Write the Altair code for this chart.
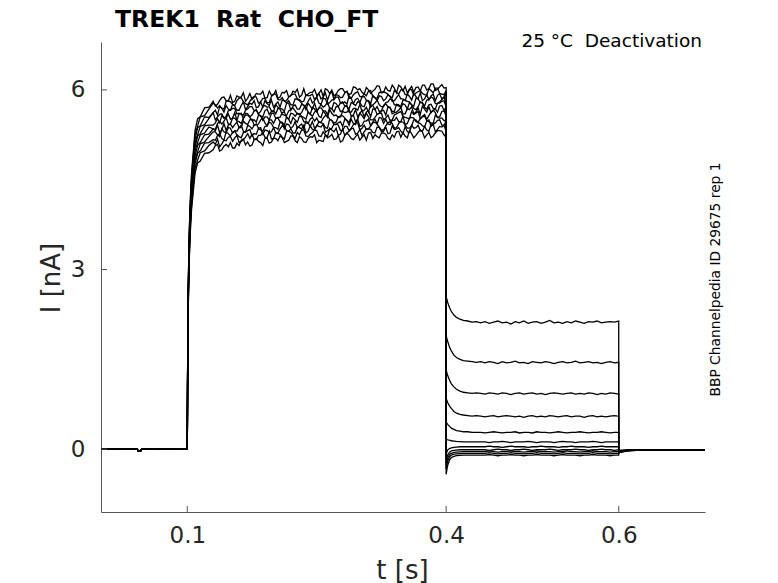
import altair as alt
import pandas as pd

# ---------------- texts / ticks ----------------
title_text = "TREK1\u00a0 Rat\u00a0 CHO_FT"
cond_text = "25 °C\u00a0 Deactivation"
id_text = "BBP Channelpedia ID 29675 rep 1"
x_title = "t [s]"
y_title = "I [nA]"
x_ticks = [0.1, 0.4, 0.6]
y_ticks = [0, 3, 6]
x_domain = [0, 0.7]
y_domain = [-1.05, 6.8]

# ---------------- sample times ----------------
t_base = [0.0, 0.01, 0.02, 0.03, 0.04, 0.042, 0.043, 0.046, 0.047, 0.05, 0.06, 0.07, 0.08, 0.09, 0.1]
v_base = [0.0, 0.005, -0.005, 0.0, 0.005, 0.0, -0.03, -0.03, 0.0, 0.005, -0.005, 0.0, 0.005, -0.005, 0.0]

t_rise = [0.1005, 0.101, 0.102, 0.103, 0.104, 0.105, 0.107, 0.109, 0.112, 0.115, 0.120, 0.125]

t_plat = [0.130, 0.135, 0.140, 0.145, 0.150, 0.155, 0.160, 0.165, 0.170, 0.175,
          0.180, 0.185, 0.190, 0.195, 0.200, 0.205, 0.210, 0.215, 0.220, 0.225,
          0.230, 0.235, 0.240, 0.245, 0.250, 0.255, 0.260, 0.265, 0.270, 0.275,
          0.280, 0.285, 0.290, 0.295, 0.300, 0.305, 0.310, 0.315, 0.320, 0.325,
          0.330, 0.335, 0.340, 0.345, 0.350, 0.355, 0.360, 0.365, 0.370, 0.375,
          0.380, 0.385, 0.390, 0.395, 0.400]
t_mid = [0.1325, 0.1375, 0.1425, 0.1475, 0.1525, 0.1575, 0.1625, 0.1675, 0.1725, 0.1775,
         0.1825, 0.1875, 0.1925, 0.1975, 0.2025, 0.2075, 0.2125, 0.2175, 0.2225, 0.2275,
         0.2325, 0.2375, 0.2425, 0.2475, 0.2525, 0.2575, 0.2625, 0.2675, 0.2725, 0.2775,
         0.2825, 0.2875, 0.2925, 0.2975, 0.3025, 0.3075, 0.3125, 0.3175, 0.3225, 0.3275,
         0.3325, 0.3375, 0.3425, 0.3475, 0.3525, 0.3575, 0.3625, 0.3675, 0.3725, 0.3775,
         0.3825, 0.3875, 0.3925, 0.3975]

t_tail = [0.400, 0.401, 0.402, 0.404, 0.406, 0.409, 0.412, 0.416, 0.420, 0.425, 0.430, 0.435, 0.440,
          0.445, 0.450, 0.455, 0.460, 0.465, 0.470, 0.475, 0.480, 0.485, 0.490,
          0.495, 0.500, 0.505, 0.510, 0.515, 0.520, 0.525, 0.530, 0.535, 0.540,
          0.545, 0.550, 0.555, 0.560, 0.565, 0.570, 0.575, 0.580, 0.585, 0.590,
          0.595, 0.600]

t_post = [0.600, 0.601, 0.603, 0.606, 0.610, 0.615, 0.620, 0.630, 0.640, 0.650, 0.660, 0.670, 0.680, 0.690, 0.700]

# ---------------- activation rise (per sweep) ----------------
rise_1 = [1.73, 2.60, 3.47, 3.99, 4.34, 4.62, 4.97, 5.32, 5.52, 5.55, 5.70, 5.71]
rise_2 = [1.71, 2.57, 3.43, 3.94, 4.28, 4.57, 4.91, 5.25, 5.40, 5.55, 5.57, 5.68]
rise_3 = [1.69, 2.53, 3.38, 3.88, 4.22, 4.50, 4.84, 5.18, 5.37, 5.40, 5.55, 5.54]
rise_4 = [1.67, 2.50, 3.33, 3.83, 4.16, 4.44, 4.77, 5.11, 5.25, 5.39, 5.42, 5.52]
rise_5 = [1.64, 2.47, 3.29, 3.78, 4.11, 4.38, 4.71, 5.04, 5.23, 5.27, 5.40, 5.41]
rise_6 = [1.62, 2.43, 3.25, 3.73, 4.06, 4.33, 4.65, 4.98, 5.12, 5.25, 5.28, 5.38]
rise_7 = [1.60, 2.40, 3.20, 3.68, 4.00, 4.26, 4.58, 4.90, 5.08, 5.12, 5.25, 5.26]
rise_8 = [1.58, 2.36, 3.15, 3.62, 3.94, 4.20, 4.52, 4.83, 4.97, 5.10, 5.13, 5.22]
rise_9 = [1.55, 2.33, 3.11, 3.57, 3.89, 4.14, 4.45, 4.77, 4.94, 4.98, 5.11, 5.12]
rise_10 = [1.53, 2.30, 3.06, 3.52, 3.83, 4.08, 4.39, 4.69, 4.83, 4.95, 4.98, 5.07]
rise_11 = [1.50, 2.25, 3.01, 3.46, 3.76, 4.01, 4.31, 4.61, 4.78, 4.81, 4.94, 4.95]

# ---------------- activation plateau, samples on t_plat (per sweep) ----------------
plat_1 = [5.81, 5.76, 5.87, 5.82, 5.91, 5.81, 5.88, 5.95, 5.86, 5.84, 5.94, 5.93, 5.86, 5.98, 5.92, 5.86, 5.96, 5.99, 5.90, 5.96,
          5.88, 6.02, 5.93, 5.96, 5.91, 6.00, 6.02, 5.94, 5.90, 5.99, 6.02, 5.97, 5.94, 6.04, 6.02, 5.93, 6.00, 5.98, 6.07, 5.95,
          6.05, 5.98, 6.03, 6.08, 5.98, 5.95, 6.06, 6.04, 5.98, 6.08, 6.02, 6.10, 6.01, 6.09, 6.04]
plat_2 = [5.78, 5.70, 5.69, 5.81, 5.80, 5.74, 5.86, 5.80, 5.75, 5.86, 5.88, 5.80, 5.86, 5.79, 5.93, 5.84, 5.87, 5.82, 5.91, 5.93,
          5.84, 5.81, 5.90, 5.93, 5.88, 5.85, 5.95, 5.93, 5.84, 5.91, 5.88, 5.98, 5.86, 5.95, 5.89, 5.94, 5.98, 5.89, 5.86, 5.96,
          5.95, 5.89, 5.99, 5.93, 6.01, 5.92, 6.00, 5.95, 5.99, 5.92, 6.02, 5.95, 6.03, 5.93, 5.99]
plat_3 = [5.62, 5.58, 5.70, 5.74, 5.66, 5.73, 5.66, 5.80, 5.72, 5.76, 5.70, 5.80, 5.82, 5.74, 5.71, 5.80, 5.83, 5.78, 5.75, 5.85,
          5.82, 5.74, 5.81, 5.78, 5.88, 5.76, 5.85, 5.79, 5.84, 5.88, 5.78, 5.76, 5.86, 5.84, 5.79, 5.89, 5.82, 5.91, 5.82, 5.89,
          5.85, 5.89, 5.82, 5.92, 5.85, 5.93, 5.83, 5.89, 5.95, 5.85, 5.83, 5.93, 5.91, 5.85, 5.96]
plat_4 = [5.62, 5.55, 5.60, 5.56, 5.66, 5.69, 5.61, 5.58, 5.68, 5.72, 5.66, 5.64, 5.74, 5.72, 5.64, 5.71, 5.68, 5.78, 5.66, 5.75,
          5.68, 5.74, 5.78, 5.68, 5.66, 5.76, 5.74, 5.69, 5.79, 5.72, 5.80, 5.72, 5.79, 5.74, 5.79, 5.72, 5.81, 5.75, 5.83, 5.72,
          5.79, 5.85, 5.75, 5.73, 5.83, 5.81, 5.75, 5.86, 5.79, 5.73, 5.84, 5.86, 5.77, 5.84, 5.76]
plat_5 = [5.41, 5.52, 5.57, 5.53, 5.51, 5.62, 5.60, 5.52, 5.60, 5.58, 5.67, 5.56, 5.65, 5.59, 5.65, 5.69, 5.59, 5.57, 5.67, 5.65,
          5.59, 5.70, 5.63, 5.71, 5.63, 5.70, 5.65, 5.70, 5.63, 5.72, 5.65, 5.74, 5.63, 5.69, 5.76, 5.66, 5.63, 5.74, 5.72, 5.65,
          5.77, 5.70, 5.64, 5.75, 5.77, 5.68, 5.75, 5.67, 5.80, 5.71, 5.75, 5.69, 5.78, 5.81, 5.72]
plat_6 = [5.35, 5.44, 5.43, 5.54, 5.43, 5.53, 5.47, 5.53, 5.58, 5.49, 5.46, 5.57, 5.55, 5.50, 5.61, 5.54, 5.62, 5.54, 5.61, 5.56,
          5.60, 5.54, 5.63, 5.56, 5.65, 5.54, 5.60, 5.67, 5.57, 5.54, 5.64, 5.63, 5.56, 5.67, 5.61, 5.55, 5.65, 5.68, 5.59, 5.65,
          5.58, 5.71, 5.62, 5.66, 5.60, 5.69, 5.72, 5.63, 5.59, 5.68, 5.72, 5.66, 5.63, 5.74, 5.71]
plat_7 = [5.35, 5.41, 5.33, 5.32, 5.43, 5.42, 5.37, 5.48, 5.42, 5.51, 5.42, 5.50, 5.45, 5.50, 5.44, 5.53, 5.46, 5.55, 5.44, 5.50,
          5.56, 5.47, 5.44, 5.54, 5.53, 5.46, 5.57, 5.51, 5.45, 5.55, 5.57, 5.49, 5.55, 5.47, 5.61, 5.52, 5.55, 5.50, 5.59, 5.61,
          5.53, 5.49, 5.58, 5.62, 5.56, 5.53, 5.64, 5.61, 5.52, 5.59, 5.57, 5.66, 5.54, 5.64, 5.57]
plat_8 = [5.30, 5.25, 5.35, 5.28, 5.36, 5.32, 5.37, 5.31, 5.41, 5.35, 5.43, 5.33, 5.39, 5.46, 5.37, 5.34, 5.44, 5.43, 5.36, 5.47,
          5.40, 5.35, 5.45, 5.47, 5.39, 5.45, 5.37, 5.51, 5.42, 5.45, 5.39, 5.49, 5.51, 5.42, 5.39, 5.48, 5.51, 5.46, 5.43, 5.53,
          5.51, 5.42, 5.49, 5.47, 5.56, 5.44, 5.54, 5.47, 5.52, 5.56, 5.47, 5.44, 5.54, 5.53, 5.47]
plat_9 = [5.17, 5.24, 5.19, 5.30, 5.23, 5.31, 5.22, 5.29, 5.32, 5.23, 5.26, 5.37, 5.33, 5.29, 5.37, 5.28, 5.40, 5.32, 5.35, 5.28,
          5.37, 5.41, 5.31, 5.34, 5.41, 5.38, 5.29, 5.34, 5.43, 5.41, 5.32, 5.39, 5.36, 5.45, 5.33, 5.41, 5.35, 5.45, 5.43, 5.33,
          5.40, 5.47, 5.36, 5.44, 5.46, 5.36, 5.40, 5.50, 5.44, 5.38, 5.50, 5.42, 5.49, 5.41, 5.48]
plat_10 = [5.13, 5.18, 5.10, 5.15, 5.22, 5.20, 5.12, 5.17, 5.27, 5.26, 5.17, 5.24, 5.21, 5.31, 5.19, 5.27, 5.21, 5.31, 5.29, 5.19,
           5.25, 5.33, 5.22, 5.29, 5.32, 5.22, 5.25, 5.36, 5.30, 5.24, 5.35, 5.28, 5.35, 5.26, 5.34, 5.30, 5.35, 5.29, 5.38, 5.30,
           5.38, 5.28, 5.34, 5.37, 5.27, 5.30, 5.41, 5.37, 5.32, 5.39, 5.31, 5.43, 5.34, 5.38, 5.31]
plat_11 = [5.00, 5.09, 5.00, 5.09, 5.12, 5.03, 5.07, 5.18, 5.13, 5.08, 5.19, 5.12, 5.19, 5.11, 5.19, 5.15, 5.20, 5.14, 5.23, 5.15,
           5.22, 5.13, 5.19, 5.21, 5.12, 5.15, 5.25, 5.22, 5.17, 5.24, 5.15, 5.28, 5.19, 5.22, 5.16, 5.25, 5.28, 5.19, 5.22, 5.28,
           5.26, 5.17, 5.21, 5.31, 5.29, 5.20, 5.27, 5.24, 5.33, 5.20, 5.29, 5.23, 5.32, 5.31, 5.21]

# ---------------- activation plateau, samples on t_mid (per sweep) ----------------
mid_1 = [5.73, 5.82, 5.88, 5.81, 5.79, 5.90, 5.88, 5.81, 5.94, 5.88, 5.93, 5.98, 5.87, 5.91, 5.99, 5.88, 5.95, 5.88, 5.98, 6.01,
         5.91, 5.90, 5.96, 6.01, 5.94, 5.89, 6.00, 6.00, 5.93, 6.02, 5.96, 5.92, 6.05, 6.00, 5.96, 6.04, 5.94, 6.01, 6.06, 5.96,
         5.99, 6.08, 5.95, 6.05, 6.06, 6.01, 5.96, 6.05, 6.08, 6.00, 6.10, 5.99, 6.05, 6.03]
mid_2 = [5.75, 5.74, 5.68, 5.82, 5.76, 5.82, 5.87, 5.77, 5.81, 5.89, 5.78, 5.86, 5.78, 5.89, 5.93, 5.83, 5.81, 5.88, 5.93, 5.85,
         5.80, 5.92, 5.91, 5.84, 5.94, 5.88, 5.83, 5.97, 5.92, 5.87, 5.95, 5.86, 5.92, 5.97, 5.88, 5.90, 5.99, 5.87, 5.96, 5.97,
         5.93, 5.87, 5.96, 6.00, 5.92, 6.01, 5.91, 5.97, 5.94, 5.91, 5.99, 6.03, 5.94, 5.92]
mid_3 = [5.66, 5.72, 5.63, 5.68, 5.76, 5.66, 5.74, 5.67, 5.78, 5.82, 5.72, 5.71, 5.77, 5.83, 5.76, 5.71, 5.82, 5.82, 5.75, 5.84,
         5.78, 5.74, 5.87, 5.82, 5.78, 5.86, 5.76, 5.83, 5.88, 5.78, 5.80, 5.90, 5.77, 5.86, 5.88, 5.83, 5.77, 5.87, 5.90, 5.82,
         5.92, 5.81, 5.87, 5.85, 5.82, 5.89, 5.94, 5.85, 5.82, 5.92, 5.90, 5.82, 5.94, 5.88]
mid_4 = [5.50, 5.59, 5.53, 5.65, 5.69, 5.60, 5.59, 5.66, 5.72, 5.65, 5.60, 5.72, 5.71, 5.65, 5.75, 5.69, 5.64, 5.78, 5.73, 5.68,
         5.76, 5.67, 5.73, 5.78, 5.69, 5.71, 5.80, 5.68, 5.77, 5.78, 5.73, 5.68, 5.77, 5.80, 5.73, 5.82, 5.71, 5.78, 5.75, 5.72,
         5.80, 5.84, 5.75, 5.73, 5.83, 5.80, 5.73, 5.85, 5.78, 5.83, 5.88, 5.77, 5.80, 5.88]
mid_5 = [5.45, 5.45, 5.53, 5.60, 5.53, 5.49, 5.61, 5.61, 5.55, 5.65, 5.59, 5.55, 5.68, 5.64, 5.60, 5.68, 5.58, 5.65, 5.70, 5.60,
         5.62, 5.72, 5.59, 5.68, 5.70, 5.65, 5.59, 5.69, 5.72, 5.64, 5.73, 5.63, 5.69, 5.66, 5.64, 5.71, 5.75, 5.67, 5.64, 5.74,
         5.72, 5.64, 5.76, 5.70, 5.75, 5.79, 5.69, 5.72, 5.79, 5.68, 5.76, 5.68, 5.78, 5.82]
mid_6 = [5.34, 5.47, 5.48, 5.43, 5.53, 5.48, 5.44, 5.58, 5.54, 5.50, 5.58, 5.49, 5.55, 5.61, 5.52, 5.54, 5.63, 5.51, 5.60, 5.61,
         5.56, 5.51, 5.60, 5.63, 5.56, 5.65, 5.54, 5.61, 5.58, 5.55, 5.62, 5.67, 5.58, 5.55, 5.66, 5.63, 5.55, 5.68, 5.61, 5.66,
         5.71, 5.60, 5.63, 5.71, 5.60, 5.67, 5.60, 5.70, 5.73, 5.63, 5.62, 5.68, 5.73, 5.66]
mid_7 = [5.32, 5.29, 5.44, 5.41, 5.37, 5.46, 5.37, 5.44, 5.50, 5.41, 5.43, 5.53, 5.40, 5.50, 5.52, 5.47, 5.41, 5.51, 5.54, 5.46,
         5.55, 5.45, 5.51, 5.48, 5.46, 5.53, 5.57, 5.49, 5.46, 5.56, 5.53, 5.46, 5.58, 5.51, 5.57, 5.61, 5.50, 5.54, 5.61, 5.50,
         5.58, 5.50, 5.60, 5.64, 5.54, 5.52, 5.59, 5.64, 5.56, 5.51, 5.63, 5.62, 5.55, 5.65]
mid_8 = [5.30, 5.22, 5.30, 5.37, 5.28, 5.31, 5.41, 5.29, 5.39, 5.41, 5.36, 5.31, 5.40, 5.44, 5.37, 5.46, 5.35, 5.42, 5.39, 5.36,
         5.43, 5.48, 5.39, 5.36, 5.47, 5.44, 5.36, 5.49, 5.42, 5.47, 5.51, 5.41, 5.44, 5.51, 5.41, 5.48, 5.40, 5.51, 5.54, 5.44,
         5.43, 5.49, 5.54, 5.47, 5.42, 5.53, 5.53, 5.46, 5.55, 5.49, 5.45, 5.58, 5.53, 5.49]
mid_9 = [5.16, 5.27, 5.16, 5.27, 5.29, 5.25, 5.20, 5.30, 5.34, 5.27, 5.36, 5.26, 5.32, 5.30, 5.28, 5.35, 5.39, 5.31, 5.28, 5.38,
         5.35, 5.28, 5.40, 5.33, 5.39, 5.43, 5.32, 5.36, 5.43, 5.32, 5.39, 5.32, 5.42, 5.45, 5.36, 5.34, 5.40, 5.46, 5.38, 5.33,
         5.45, 5.44, 5.37, 5.47, 5.41, 5.36, 5.50, 5.45, 5.40, 5.48, 5.39, 5.45, 5.50, 5.41]
mid_10 = [5.09, 5.05, 5.16, 5.21, 5.14, 5.24, 5.14, 5.21, 5.19, 5.17, 5.24, 5.29, 5.20, 5.18, 5.29, 5.26, 5.18, 5.31, 5.24, 5.29,
          5.33, 5.23, 5.26, 5.33, 5.23, 5.30, 5.22, 5.33, 5.36, 5.26, 5.24, 5.31, 5.36, 5.28, 5.24, 5.35, 5.34, 5.28, 5.37, 5.31,
          5.27, 5.40, 5.35, 5.31, 5.39, 5.29, 5.36, 5.41, 5.31, 5.33, 5.43, 5.30, 5.39, 5.41]
mid_11 = [5.07, 4.98, 5.06, 5.05, 5.03, 5.11, 5.16, 5.08, 5.06, 5.17, 5.14, 5.07, 5.19, 5.13, 5.19, 5.23, 5.12, 5.16, 5.23, 5.12,
          5.19, 5.12, 5.22, 5.25, 5.16, 5.14, 5.20, 5.26, 5.18, 5.13, 5.24, 5.24, 5.17, 5.26, 5.21, 5.16, 5.29, 5.25, 5.20, 5.28,
          5.19, 5.25, 5.30, 5.21, 5.23, 5.32, 5.20, 5.29, 5.30, 5.25, 5.20, 5.28, 5.32, 5.25]

# ---------------- deactivation tails (per sweep) ----------------
tail_1 = [2.55, 2.49, 2.44, 2.36, 2.30, 2.24, 2.20, 2.17, 2.15, 2.14, 2.12, 2.13, 2.11,
          2.13, 2.10, 2.12, 2.14, 2.11, 2.12, 2.09, 2.13, 2.11, 2.14, 2.10, 2.12, 2.13, 2.10, 2.12, 2.15,
          2.11, 2.12, 2.10, 2.13, 2.11, 2.14, 2.12, 2.10, 2.13, 2.12, 2.14, 2.11, 2.12, 2.13, 2.12, 2.14]
tail_2 = [1.90, 1.84, 1.79, 1.70, 1.64, 1.57, 1.53, 1.50, 1.48, 1.47, 1.46, 1.45, 1.46,
          1.44, 1.46, 1.45, 1.43, 1.46, 1.44, 1.45, 1.47, 1.44, 1.45, 1.43, 1.46, 1.45, 1.44, 1.46, 1.45,
          1.43, 1.45, 1.46, 1.44, 1.45, 1.47, 1.44, 1.45, 1.46, 1.44, 1.45, 1.43, 1.45, 1.46, 1.44, 1.45]
tail_3 = [1.32, 1.27, 1.22, 1.15, 1.09, 1.04, 1.00, 0.97, 0.95, 0.94, 0.93, 0.94, 0.93,
          0.92, 0.94, 0.93, 0.92, 0.94, 0.93, 0.91, 0.93, 0.94, 0.92, 0.93, 0.94, 0.92, 0.93, 0.91, 0.93,
          0.94, 0.93, 0.92, 0.93, 0.94, 0.92, 0.93, 0.92, 0.94, 0.93, 0.91, 0.93, 0.92, 0.94, 0.93, 0.92]
tail_4 = [0.85, 0.81, 0.77, 0.72, 0.68, 0.63, 0.60, 0.58, 0.57, 0.56, 0.55, 0.56, 0.55,
          0.54, 0.55, 0.56, 0.54, 0.55, 0.56, 0.55, 0.54, 0.55, 0.53, 0.55, 0.56, 0.54, 0.55, 0.54, 0.56,
          0.55, 0.54, 0.55, 0.56, 0.54, 0.55, 0.55, 0.53, 0.55, 0.56, 0.54, 0.55, 0.54, 0.55, 0.56, 0.55]
tail_5 = [0.45, 0.43, 0.41, 0.38, 0.35, 0.33, 0.31, 0.30, 0.29, 0.29, 0.28, 0.28, 0.28,
          0.27, 0.28, 0.29, 0.28, 0.27, 0.28, 0.28, 0.29, 0.27, 0.28, 0.28, 0.27, 0.29, 0.28, 0.28, 0.27,
          0.28, 0.29, 0.28, 0.27, 0.28, 0.28, 0.29, 0.28, 0.27, 0.28, 0.28, 0.29, 0.28, 0.27, 0.28, 0.28]
tail_6 = [0.17, 0.16, 0.155, 0.15, 0.14, 0.135, 0.13, 0.125, 0.12, 0.12, 0.12, 0.12, 0.12,
          0.12, 0.11, 0.12, 0.12, 0.13, 0.12, 0.11, 0.12, 0.12, 0.12, 0.13, 0.12, 0.11, 0.12, 0.12, 0.12,
          0.11, 0.12, 0.13, 0.12, 0.12, 0.11, 0.12, 0.12, 0.12, 0.13, 0.12, 0.11, 0.12, 0.12, 0.12, 0.12]
tail_7 = [-0.08, -0.04, -0.01, 0.01, 0.02, 0.03, 0.035, 0.04, 0.04, 0.04, 0.04, 0.04, 0.04,
          0.04, 0.05, 0.04, 0.04, 0.03, 0.04, 0.05, 0.04, 0.04, 0.04, 0.03, 0.04, 0.04, 0.05, 0.04, 0.04,
          0.04, 0.03, 0.04, 0.04, 0.05, 0.04, 0.04, 0.04, 0.03, 0.04, 0.04, 0.05, 0.04, 0.04, 0.04, 0.04]
tail_8 = [-0.18, -0.13, -0.09, -0.05, -0.03, -0.02, -0.015, -0.01, -0.01, -0.01, -0.01, -0.01, -0.01,
          -0.01, -0.02, -0.01, 0.00, -0.01, -0.01, -0.02, -0.01, -0.01, 0.00, -0.01, -0.02, -0.01, -0.01, -0.01, 0.00,
          -0.01, -0.02, -0.01, -0.01, -0.01, 0.00, -0.01, -0.01, -0.02, -0.01, -0.01, 0.00, -0.01, -0.01, -0.02, -0.01]
tail_9 = [-0.26, -0.19, -0.14, -0.09, -0.07, -0.055, -0.05, -0.045, -0.04, -0.04, -0.04, -0.04, -0.04,
          -0.04, -0.03, -0.04, -0.05, -0.04, -0.04, -0.03, -0.04, -0.04, -0.05, -0.04, -0.04, -0.03, -0.04, -0.04, -0.04,
          -0.05, -0.04, -0.04, -0.03, -0.04, -0.04, -0.05, -0.04, -0.04, -0.03, -0.04, -0.04, -0.04, -0.05, -0.04, -0.04]
tail_10 = [-0.33, -0.25, -0.19, -0.13, -0.10, -0.085, -0.08, -0.075, -0.07, -0.07, -0.07, -0.07, -0.07,
           -0.07, -0.06, -0.07, -0.08, -0.07, -0.07, -0.06, -0.07, -0.07, -0.08, -0.07, -0.07, -0.06, -0.07, -0.07, -0.07,
           -0.08, -0.07, -0.06, -0.07, -0.07, -0.07, -0.08, -0.07, -0.07, -0.06, -0.07, -0.07, -0.07, -0.08, -0.07, -0.07]
tail_11 = [-0.42, -0.33, -0.26, -0.18, -0.14, -0.12, -0.11, -0.105, -0.10, -0.10, -0.10, -0.10, -0.10,
           -0.10, -0.09, -0.10, -0.11, -0.10, -0.10, -0.09, -0.10, -0.10, -0.11, -0.10, -0.10, -0.09, -0.10, -0.10, -0.10,
           -0.11, -0.10, -0.09, -0.10, -0.10, -0.10, -0.11, -0.10, -0.10, -0.09, -0.10, -0.10, -0.10, -0.11, -0.10, -0.10]

# ---------------- return to holding (per sweep) ----------------
post_1 = [-0.07, -0.06, -0.05, -0.04, -0.03, -0.03, -0.02, -0.02, -0.02, -0.01, -0.02, -0.02, -0.01, -0.02, -0.02]
post_2 = [-0.06, -0.05, -0.05, -0.04, -0.03, -0.02, -0.02, -0.02, -0.01, -0.02, -0.02, -0.01, -0.02, -0.02, -0.01]
post_3 = [-0.06, -0.05, -0.04, -0.03, -0.03, -0.02, -0.02, -0.01, -0.02, -0.02, -0.01, -0.02, -0.02, -0.01, -0.02]
post_4 = [-0.05, -0.05, -0.04, -0.03, -0.02, -0.02, -0.02, -0.02, -0.01, -0.02, -0.02, -0.02, -0.01, -0.02, -0.02]
post_5 = [-0.05, -0.04, -0.04, -0.03, -0.02, -0.02, -0.01, -0.02, -0.02, -0.01, -0.02, -0.01, -0.02, -0.02, -0.01]
post_6 = [-0.04, -0.04, -0.03, -0.03, -0.02, -0.02, -0.02, -0.01, -0.02, -0.02, -0.01, -0.02, -0.02, -0.01, -0.02]
post_7 = [-0.04, -0.03, -0.03, -0.02, -0.02, -0.02, -0.01, -0.02, -0.02, -0.01, -0.02, -0.02, -0.01, -0.02, -0.02]
post_8 = [-0.04, -0.03, -0.03, -0.02, -0.02, -0.01, -0.02, -0.02, -0.01, -0.02, -0.02, -0.01, -0.02, -0.01, -0.02]
post_9 = [-0.03, -0.03, -0.02, -0.02, -0.02, -0.02, -0.01, -0.02, -0.02, -0.02, -0.01, -0.02, -0.01, -0.02, -0.02]
post_10 = [-0.03, -0.03, -0.02, -0.02, -0.02, -0.01, -0.02, -0.02, -0.01, -0.02, -0.02, -0.01, -0.02, -0.02, -0.01]
post_11 = [-0.03, -0.02, -0.02, -0.02, -0.01, -0.02, -0.02, -0.01, -0.02, -0.02, -0.01, -0.02, -0.02, -0.02, -0.01]

sweeps = [
    (rise_1, plat_1, mid_1, tail_1, post_1), (rise_2, plat_2, mid_2, tail_2, post_2),
    (rise_3, plat_3, mid_3, tail_3, post_3), (rise_4, plat_4, mid_4, tail_4, post_4),
    (rise_5, plat_5, mid_5, tail_5, post_5), (rise_6, plat_6, mid_6, tail_6, post_6),
    (rise_7, plat_7, mid_7, tail_7, post_7), (rise_8, plat_8, mid_8, tail_8, post_8),
    (rise_9, plat_9, mid_9, tail_9, post_9), (rise_10, plat_10, mid_10, tail_10, post_10),
    (rise_11, plat_11, mid_11, tail_11, post_11),
]

rows = []
for k, (r, p, m, tl, po) in enumerate(sweeps, start=1):
    assert len(r) == len(t_rise) and len(p) == len(t_plat) and len(m) == len(t_mid)
    assert len(tl) == len(t_tail) and len(po) == len(t_post), k
    plateau = sorted(list(zip(t_plat, p)) + list(zip(t_mid, m)))
    pts = (list(zip(t_base, v_base)) + list(zip(t_rise, r)) + plateau
           + list(zip(t_tail, tl)) + list(zip(t_post, po)))
    for i, (t, v) in enumerate(pts):
        rows.append({"sweep": k, "idx": i, "t": t, "I": v})
df = pd.DataFrame(rows)

# ---------------- chart ----------------
W, H = 604, 470
FONT = "DejaVu Sans"
AX = "#555555"
TXT = "#262626"

x_enc = alt.X(
    "t:Q",
    scale=alt.Scale(domain=x_domain, nice=False, zero=False),
    axis=alt.Axis(
        values=x_ticks, format=".1f", title=x_title, ticks=False, tickSize=0, grid=False,
        labelPadding=12, labelFontSize=23, labelFont=FONT, labelColor=TXT,
        titleFont=FONT, titleFontSize=26, titleFontWeight="normal", titleColor=TXT,
        titleX=301, titleY=66, titleBaseline="alphabetic", titleAlign="center",
        domainColor=AX, domainWidth=1, labelFlush=False,
    ),
)
y_enc = alt.Y(
    "I:Q",
    scale=alt.Scale(domain=y_domain, nice=False, zero=False),
    axis=alt.Axis(
        values=y_ticks, format="d", title=y_title, ticks=False, tickSize=0, grid=False,
        labelPadding=16, labelFontSize=23, labelFont=FONT, labelColor=TXT,
        titleFont=FONT, titleFontSize=26, titleFontWeight="normal", titleColor=TXT,
        titleX=-41.5, titleY=235.5, titleAngle=270, titleBaseline="alphabetic", titleAlign="center",
        domainColor=AX, domainWidth=1, labelFlush=False,
    ),
)

traces = alt.Chart(df).mark_line(color="black", strokeWidth=1.3, clip=True).encode(
    x=x_enc, y=y_enc, detail="sweep:N", order="idx:Q"
)

xt = alt.Chart(pd.DataFrame({"t": x_ticks})).mark_rule(color=AX, strokeWidth=1).encode(
    x=x_enc, y=alt.value(H), y2=alt.value(H - 6)
)
yt = alt.Chart(pd.DataFrame({"I": y_ticks})).mark_rule(color=AX, strokeWidth=1).encode(
    y=y_enc, x=alt.value(0), x2=alt.value(6)
)

title_mark = alt.Chart(pd.DataFrame({"label": [title_text]})).mark_text(
    align="left", baseline="alphabetic", font=FONT, fontSize=23.5, fontWeight="bold", color="black"
).encode(x=alt.value(14), y=alt.value(-15), text="label:N")

cond_mark = alt.Chart(pd.DataFrame({"label": [cond_text]})).mark_text(
    align="right", baseline="alphabetic", font=FONT, fontSize=18.5, color="black"
).encode(x=alt.value(601), y=alt.value(5), text="label:N")

id_mark = alt.Chart(pd.DataFrame({"label": [id_text]})).mark_text(
    align="center", baseline="alphabetic", font=FONT, fontSize=13.8, angle=270, color="black"
).encode(x=alt.value(619), y=alt.value(237.5), text="label:N")

chart = (
    alt.layer(traces, xt, yt, title_mark, cond_mark, id_mark)
    .properties(
        width=W, height=H,
        autosize=alt.AutoSizeParams(type="none"),
        padding={"left": 93, "top": 34, "right": 65, "bottom": 71},
        background="white",
    )
    .configure_view(strokeWidth=0)
)

chart.save("out.html", embed_options={"renderer": "svg", "actions": False})
